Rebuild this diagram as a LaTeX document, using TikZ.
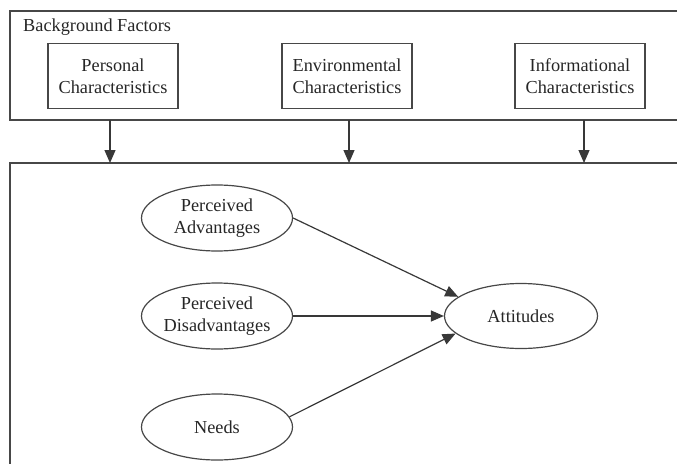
\documentclass[tikz,border=0pt]{standalone}
\usepackage{fontspec}
\setmainfont{Liberation Serif}
\usetikzlibrary{shapes.geometric,arrows.meta}
\begin{document}
\begin{tikzpicture}[x=1pt,y=-1pt,
  txt/.style={font=\fontsize{18.3}{22}\selectfont,text=black!85},
  frame/.style={draw=black!72,line width=1.2pt},
  factor/.style={frame,txt,rectangle,minimum width=130pt,minimum height=65pt,inner sep=0pt,align=center},
  construct/.style={frame,txt,ellipse,minimum width=151pt,minimum height=66pt,inner sep=0pt,align=center},
  link/.style={draw=black!78,line width=1.2pt,-{Triangle[length=13pt,width=11pt]}}]
\useasboundingbox (0,0) rectangle (677,463);
\begin{scope}
\clip (0,0) rectangle (677,463);
% outer frames
\draw[frame] (10,11) rectangle (700,120);
\draw[frame] (10,163) rectangle (700,480);
\end{scope}
\node[txt,anchor=west,inner sep=0pt] (bg) at (23,27) {Background Factors};
% background factor boxes
\node[factor] (pers) at (113,76) {Personal\\Characteristics};
\node[factor] (envi) at (347,76) {Environmental\\Characteristics};
\node[factor] (info) at (580,76) {Informational\\Characteristics};
% arrow anchors on the frames
\coordinate (p1) at (110,120); \coordinate (p2) at (110,163);
\coordinate (e1) at (349,120); \coordinate (e2) at (349,163);
\coordinate (i1) at (584,120); \coordinate (i2) at (584,163);
\draw[link] (p1) -- (p2);
\draw[link] (e1) -- (e2);
\draw[link] (i1) -- (i2);
% model constructs
\node[construct] (adv) at (217,218) {Perceived\\Advantages};
\node[construct] (dis) at (217,316) {Perceived\\Disadvantages};
\node[construct] (need) at (217,427) {Needs};
\node[construct,minimum width=153pt,minimum height=65pt] (att) at (521,316) {Attitudes};
\draw[link] (adv.east) -- (att.163);
\draw[link] (dis) -- (att);
\draw[link] (need.8) -- (att.195);
\end{tikzpicture}
\end{document}
